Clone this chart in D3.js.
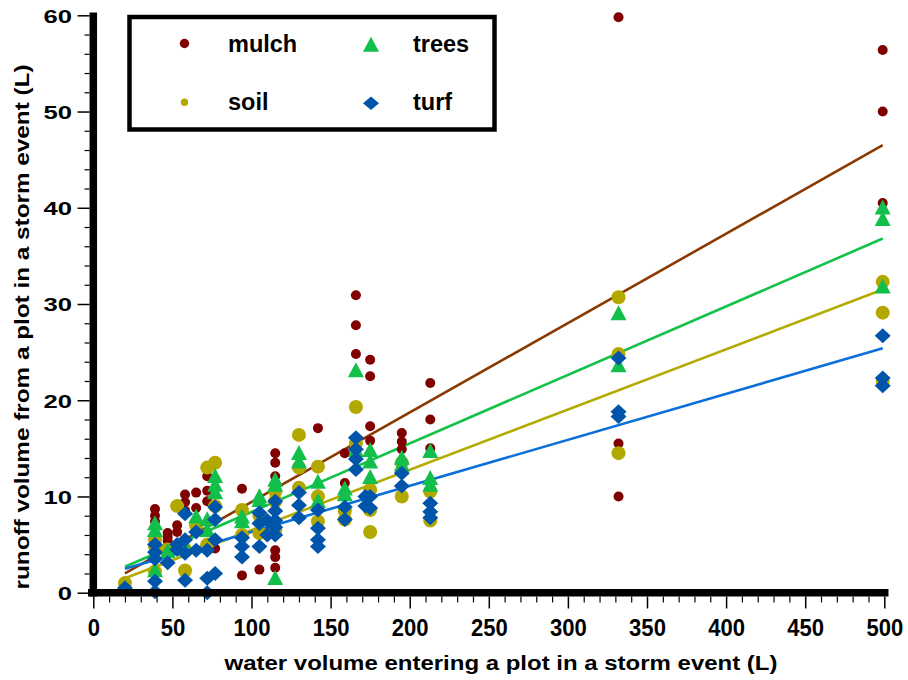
<!DOCTYPE html>
<html><head><meta charset="utf-8">
<script src="https://cdn.jsdelivr.net/npm/d3@7"></script>
<style>
html,body{margin:0;padding:0;background:#fff;}
svg{display:block;font-family:"Liberation Sans",Arial,sans-serif;font-weight:bold;}
</style></head>
<body>
<svg id="c" width="908" height="680"></svg>
<script>
// ---------- data ----------
const xTicks = [0,50,100,150,200,250,300,350,400,450,500];
const yTicks = [0,10,20,30,40,50,60];
const seriesNames = ["mulch","soil","trees","turf"];
const seriesColors = ["#800000","#b3a800","#13bf4b","#0055aa"];
const lineColors = ["#8a3a00","#b3ab00","#14c24a","#0a6fd8"];
// regression lines: [x1, y1, x2, y2]
const mulchFit = [20, 2.0, 499, 46.5];
const soilFit  = [20, 1.5, 499, 31.5];
const treesFit = [20, 2.7, 499, 36.8];
const turfFit  = [20, 2.5, 499, 25.4];

const mulch = [
 [39,8.7],[39,8.0],[39,7.4],[47,6.2],[47,5.8],[47,5.4],[53,7.0],[53,6.3],
 [58,10.2],[58,9.4],[58,8.5],[65,10.4],[65,8.8],[72,12.1],[72,10.6],[72,9.5],
 [77,4.6],[94,10.8],[94,1.8],[105,2.4],[115,14.5],[115,13.5],[115,12.1],
 [115,4.4],[115,3.7],[115,2.6],[142,17.1],[142,10.2],[159,14.5],[159,11.4],
 [166,30.9],[166,27.8],[166,24.8],[175,24.2],[175,22.5],[175,17.3],[175,15.8],
 [195,16.6],[195,15.7],[195,14.9],[213,21.8],[213,18.0],[213,15.0],
 [332,59.8],[332,15.5],[332,10.0],[499,56.4],[499,50.0],[499,40.5]
];
const soil = [
 [20,1.0],[39,5.5],[39,4.8],[39,2.2],[47,4.5],[53,9.0],[58,2.3],[58,4.5],
 [65,7.0],[72,13.0],[72,5.0],[77,13.5],[77,9.0],[94,8.6],[94,6.0],[105,6.2],
 [105,8.0],[115,10.5],[115,9.5],[115,6.5],[130,16.4],[130,13.0],[130,10.9],
 [142,13.1],[142,7.4],[142,10.0],[159,7.6],[159,8.5],[166,19.3],[166,15.5],
 [175,10.7],[175,8.6],[175,6.3],[195,10.0],[195,13.5],[213,10.5],[213,7.5],
 [332,30.7],[332,24.8],[332,14.5],[499,32.3],[499,29.1],[499,22.0]
];
const trees = [
 [20,0.5],[39,7.2],[39,6.5],[39,2.3],[47,4.3],[58,4.8],[65,7.9],[72,7.6],
 [72,6.5],[77,12.1],[77,11.2],[77,10.4],[94,7.9],[94,7.4],[105,9.6],[105,10.0],
 [115,11.7],[115,11.2],[115,1.5],[130,14.5],[130,13.6],[142,11.5],[142,9.5],
 [159,10.2],[159,10.8],[166,23.1],[166,14.8],[175,14.8],[175,13.6],[175,12.0],
 [195,14.0],[195,13.3],[213,14.7],[213,11.9],[213,11.2],[332,29.0],[332,23.6],
 [499,40.0],[499,38.8],[499,31.8]
];
const turf = [
 [20,0.5],[39,5.0],[39,4.2],[39,3.5],[39,1.2],[39,0.1],[47,3.1],[53,5.0],
 [53,4.5],[58,8.2],[58,5.5],[58,4.1],[58,1.3],[65,6.3],[65,4.4],[72,4.4],
 [72,1.5],[72,0.0],[77,8.9],[77,7.6],[77,5.5],[77,2.0],[94,5.7],[94,4.8],
 [94,3.7],[105,8.3],[105,7.2],[105,4.8],[110,7.5],[110,6.0],[115,9.5],
 [115,8.5],[115,7.5],[115,6.8],[115,6.0],[130,10.4],[130,9.1],[130,7.8],
 [142,8.6],[142,6.7],[142,5.5],[142,4.8],[159,8.9],[159,7.6],[166,16.1],
 [166,14.9],[166,13.9],[166,12.8],[172,10.0],[172,9.0],[175,10.0],[175,8.8],
 [195,12.4],[195,11.1],[213,9.3],[213,8.4],[213,7.8],[332,24.4],[332,18.8],
 [332,18.3],[499,26.7],[499,22.3],[499,21.5]
];

// ---------- chart ----------
const svg = d3.select("#c");
const x = d3.scaleLinear().domain([0,500]).range([93.3,884.3]);
const y = d3.scaleLinear().domain([0,60]).range([592.7,15.3]);

// regression lines (under markers)
const fits = [mulchFit, soilFit, treesFit, turfFit];
fits.forEach((f,i)=>{
  svg.append("line")
    .attr("x1",x(f[0])).attr("y1",y(f[1]))
    .attr("x2",x(f[2])).attr("y2",y(f[3]))
    .attr("stroke",lineColors[i]).attr("stroke-width",2.6);
});

const circleGen = r => d3.symbol().type(d3.symbolCircle).size(Math.PI*r*r);
const triGen = d3.symbol().type(d3.symbolTriangle).size(120);
function diamondPath(w,h){return `M0,${-h/2}L${w/2},0L0,${h/2}L${-w/2},0Z`;}
function triPath(w,h){return `M0,${-h*0.55}L${w/2},${h*0.45}L${-w/2},${h*0.45}Z`;}

const data = [mulch, soil, trees, turf];
const shapes = [
  () => circleGen(5)(),
  () => circleGen(7)(),
  () => triPath(16,15),
  () => diamondPath(16,15)
];
data.forEach((arr,i)=>{
  svg.append("g").selectAll("path").data(arr).join("path")
    .attr("d", shapes[i]())
    .attr("transform", d=>`translate(${x(d[0])},${y(d[1])})`)
    .attr("fill", seriesColors[i]);
});

// axes
const barW = 7.5;
// y axis major
const yAxis = svg.append("g").attr("transform",`translate(${93.3-barW/2},0)`)
  .call(d3.axisLeft(y).tickValues(yTicks).tickSizeInner(12).tickSizeOuter(0).tickPadding(0));
yAxis.select(".domain").remove();
yAxis.selectAll(".tick line").attr("stroke","#000").attr("stroke-width",1.5);
yAxis.selectAll(".tick text")
  .attr("font-size",19).attr("font-family","'Liberation Sans',Arial,sans-serif")
  .attr("font-weight","bold").attr("fill","#000")
  .attr("text-anchor","end")
  .attr("x", (72-(93.3-barW/2))/1.35).attr("dy","0.36em")
  .attr("transform","scale(1.35,1)");
// y minor
const yMinor = svg.append("g").attr("transform",`translate(${93.3-barW/2},0)`)
  .call(d3.axisLeft(y).tickValues(d3.range(0,61,2).filter(v=>v%10!==0)).tickSizeInner(5).tickSizeOuter(0).tickFormat(""));
yMinor.select(".domain").remove();
yMinor.selectAll(".tick line").attr("stroke","#000").attr("stroke-width",1.2);

// x axis major
const xAxis = svg.append("g").attr("transform",`translate(0,${592.7+barW/2})`)
  .call(d3.axisBottom(x).tickValues(xTicks).tickSizeInner(12).tickSizeOuter(0).tickPadding(0));
xAxis.select(".domain").remove();
xAxis.selectAll(".tick line").attr("stroke","#000").attr("stroke-width",1.5);
xAxis.selectAll(".tick text")
  .attr("font-size",24).attr("font-family","'Liberation Sans',Arial,sans-serif")
  .attr("font-weight","bold").attr("fill","#000")
  .attr("y", 636-(592.7+barW/2)).attr("dy",0)
  .attr("transform","scale(0.92,1)");
const xMinor = svg.append("g").attr("transform",`translate(0,${592.7+barW/2})`)
  .call(d3.axisBottom(x).tickValues(d3.range(0,501,10).filter(v=>v%50!==0)).tickSizeInner(6).tickSizeOuter(0).tickFormat(""));
xMinor.select(".domain").remove();
xMinor.selectAll(".tick line").attr("stroke","#000").attr("stroke-width",1.2);

// thick axis bars
svg.append("line").attr("x1",93.3).attr("x2",93.3).attr("y1",12.5).attr("y2",596.5)
  .attr("stroke","#000").attr("stroke-width",barW);
svg.append("line").attr("x1",88).attr("x2",888.5).attr("y1",592.7).attr("y2",592.7)
  .attr("stroke","#000").attr("stroke-width",barW);

// axis titles
svg.append("text").attr("x",501).attr("y",670).attr("text-anchor","middle")
  .attr("font-size",20).attr("textLength",553).attr("lengthAdjust","spacingAndGlyphs")
  .text("water volume entering a plot in a storm event (L)");
svg.append("text").attr("transform","translate(29,327) rotate(-90)").attr("text-anchor","middle")
  .attr("font-size",20).attr("textLength",525).attr("lengthAdjust","spacingAndGlyphs")
  .text("runoff volume from a plot in a storm event (L)");

// legend
svg.append("rect").attr("x",129.5).attr("y",17).attr("width",365).attr("height",112.5)
  .attr("fill","#fff").attr("stroke","#000").attr("stroke-width",4.5);
const legendItems = [
  {name:"mulch", i:0, mx:184.5, my:43.5, tx:228, ty:52, shape:circleGen(4.7)()},
  {name:"trees", i:2, mx:371, my:45, tx:413, ty:52, shape:triPath(16,15)},
  {name:"soil",  i:1, mx:184.5, my:102.3, tx:228, ty:110, shape:circleGen(3.7)()},
  {name:"turf",  i:3, mx:371, my:103.3, tx:413, ty:110, shape:diamondPath(16,13.5)}
];
legendItems.forEach(it=>{
  svg.append("path").attr("d",it.shape).attr("transform",`translate(${it.mx},${it.my})`)
    .attr("fill",seriesColors[it.i]);
  svg.append("text").attr("x",it.tx).attr("y",it.ty).attr("font-size",23.5).attr("fill","#000")
    .text(it.name);
});
</script>
</body></html>
